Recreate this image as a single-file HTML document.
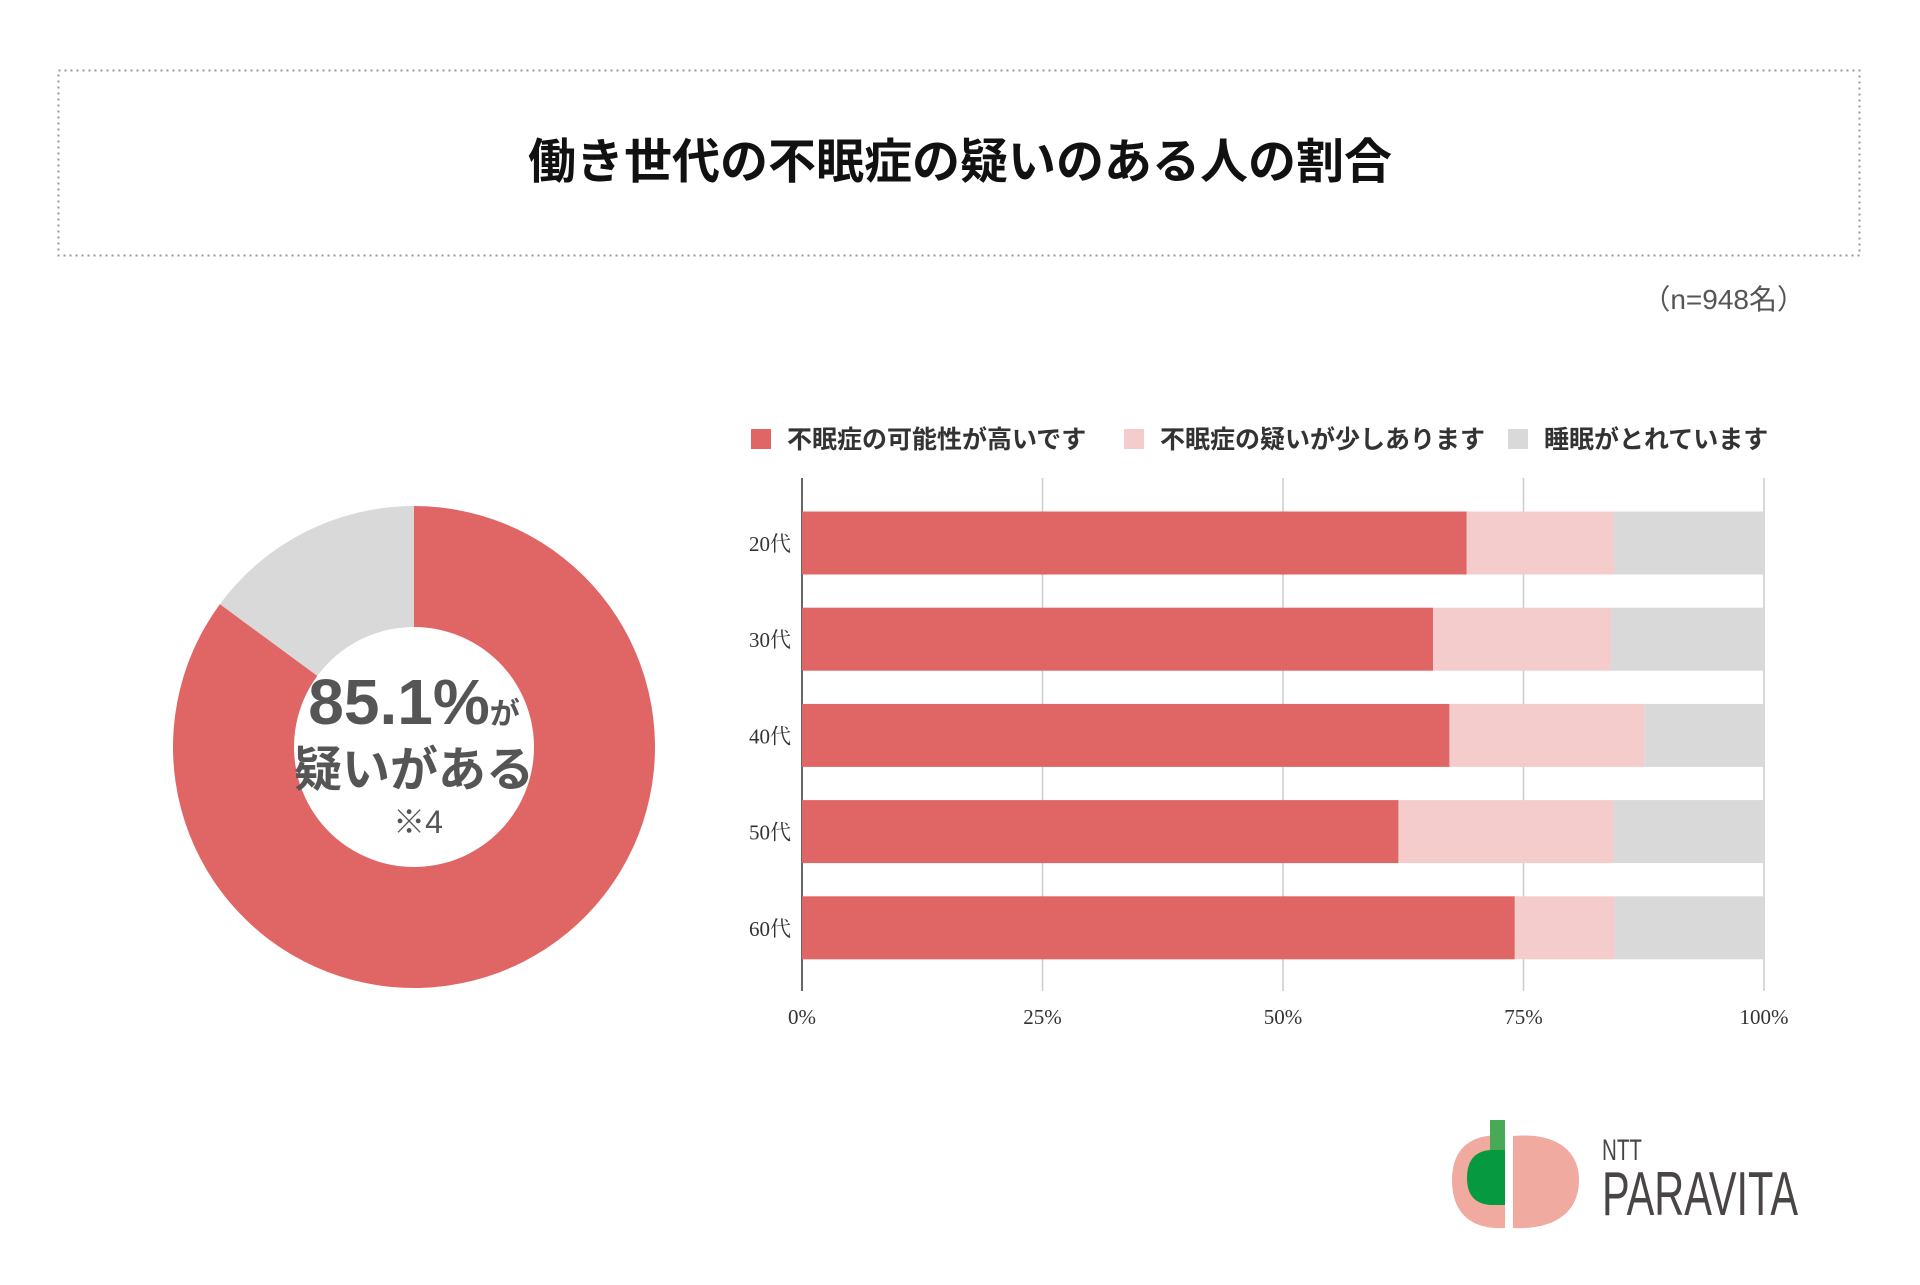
<!DOCTYPE html>
<html><head><meta charset="utf-8"><style>
html,body{margin:0;padding:0;background:#fff;}
body{width:1920px;height:1280px;position:relative;overflow:hidden;font-family:"Liberation Sans","Noto Sans CJK JP",sans-serif;}
</style></head><body>
<svg width="1920" height="1280" viewBox="0 0 1920 1280" xmlns="http://www.w3.org/2000/svg" font-family="Liberation Sans, Noto Sans CJK JP, sans-serif">
<rect x="58.5" y="70.5" width="1801" height="185" fill="none" stroke="#999" stroke-width="2" stroke-dasharray="2,4"/>
<text x="960" y="178" text-anchor="middle" font-size="48" font-weight="bold" fill="#111">働き世代の不眠症の疑いのある人の割合</text>
<text x="1805" y="309" text-anchor="end" font-size="28" fill="#555">（n=948名）</text>
<g id="donut"></g>
<text x="414" y="724" text-anchor="middle" fill="#555" font-weight="bold"><tspan font-size="64">85.1%</tspan><tspan font-size="30">が</tspan></text>
<text x="414" y="786" text-anchor="middle" font-size="48" font-weight="bold" fill="#555">疑いがある</text>
<text x="418" y="833" text-anchor="middle" font-size="32" fill="#555">※4</text>
<g id="legend"></g>
<g id="bars"></g>
<g>
<path d="M1505 1136 C1470 1132 1452 1150 1452 1180 C1452 1212 1470 1230 1505 1228 Z" fill="#f0aaa0"/>
<path d="M1513 1136 C1555 1132 1579 1150 1579 1180 C1579 1212 1555 1230 1513 1228 Z" fill="#f0aaa0"/>
<path d="M1505 1150 L1490 1150 Q1467 1152 1467 1178 Q1467 1203 1490 1205 L1505 1205 Z" fill="#07993f"/>
<rect x="1490" y="1120" width="15" height="30" fill="#4aa957"/>
<text x="1602" y="1160" font-size="30" fill="#4a4545" textLength="40" lengthAdjust="spacingAndGlyphs">NTT</text>
<text x="1602" y="1215" font-size="62" fill="#4a4545" textLength="196" lengthAdjust="spacingAndGlyphs">PARAVITA</text>
</g>
</svg>
<script>
const donutLabels = ['可能性', 'とれている'];
const donutValues = [85.1, 14.9];
const categories = ['20代', '30代', '40代', '50代', '60代'];
const seriesHigh = [69.1, 65.6, 67.3, 62.0, 74.1];
const seriesSome = [15.3, 18.5, 20.3, 22.4, 10.4];
const seriesGood = [15.6, 15.9, 12.4, 15.6, 15.5];
const seriesNames = ['不眠症の可能性が高いです', '不眠症の疑いが少しあります', '睡眠がとれています'];
const tickValues = [0, 25, 50, 75, 100];
const tickLabels = ['0%', '25%', '50%', '75%', '100%'];

const NS = 'http://www.w3.org/2000/svg';
const colors = ['#e06666', '#f4cccc', '#d9d9d9'];
function mk(tag, attrs, parent) {
  const e = document.createElementNS(NS, tag);
  for (const k in attrs) e.setAttribute(k, attrs[k]);
  parent.appendChild(e);
  return e;
}
// donut
const dg = document.getElementById('donut');
const cx = 414, cy = 747, R = 241, r = 120;
const dTotal = donutValues.reduce((a, b) => a + b, 0);
let acc = 0;
const dColors = ['#e06666', '#d9d9d9'];
donutValues.forEach((v, i) => {
  const a0 = acc / dTotal * 2 * Math.PI, a1 = (acc + v) / dTotal * 2 * Math.PI;
  acc += v;
  const p = (a, rad) => [cx + rad * Math.sin(a), cy - rad * Math.cos(a)];
  const large = (a1 - a0) > Math.PI ? 1 : 0;
  const [x0, y0] = p(a0, R), [x1, y1] = p(a1, R), [x2, y2] = p(a1, r), [x3, y3] = p(a0, r);
  const path = mk('path', {d: `M${x0} ${y0} A${R} ${R} 0 ${large} 1 ${x1} ${y1} L${x2} ${y2} A${r} ${r} 0 ${large} 0 ${x3} ${y3} Z`, fill: dColors[i]}, dg);
  
  
});
// legend
const lg = document.getElementById('legend');
const legX = [751, 1124, 1508];
seriesNames.forEach((n, i) => {
  const g = mk('g', {}, lg);
  
  
  mk('rect', {x: legX[i], y: 429, width: 20, height: 20, fill: colors[i]}, g);
  mk('text', {x: legX[i] + 36, y: 448, 'font-size': 25, 'font-weight': 'bold', fill: '#333'}, g).textContent = n;
});
// bars
const bg = document.getElementById('bars');
const X0 = 802, X1 = 1764, plotTop = 478, plotBottom = 991;
const firstCenter = 543, step = 96.2;
const xs = v => X0 + (X1 - X0) * v / 100;
const ys = i => firstCenter + step * i;
const barH = 63;
tickValues.forEach((t, i) => {
  const gl = mk('line', {x1: xs(t), x2: xs(t), y1: plotTop, y2: plotBottom, stroke: i === 0 ? '#333' : '#ccc', 'stroke-width': 1.5}, bg);
  
  
  const tl = mk('text', {x: xs(t), y: 1024, 'text-anchor': 'middle', 'font-size': 21, 'font-family': 'Liberation Serif, Noto Serif CJK SC, serif', fill: '#333'}, bg);
  tl.textContent = tickLabels[i];
  
  
});
const series = [seriesHigh, seriesSome, seriesGood];
categories.forEach((c, i) => {
  const yc = ys(i);
  let s = 0;
  series.forEach((arr, j) => {
    const v = arr[i];
    const rc = mk('rect', {x: xs(s), y: yc - barH / 2, width: xs(s + v) - xs(s), height: barH, fill: colors[j]}, bg);
    
    
    s += v;
  });
  const lb = mk('text', {x: 791, y: yc + 8, 'text-anchor': 'end', 'font-size': 21, 'font-family': 'Liberation Serif, Noto Serif CJK SC, serif', fill: '#333'}, bg);
  lb.textContent = c;
  
  
});
</script>
</body></html>
